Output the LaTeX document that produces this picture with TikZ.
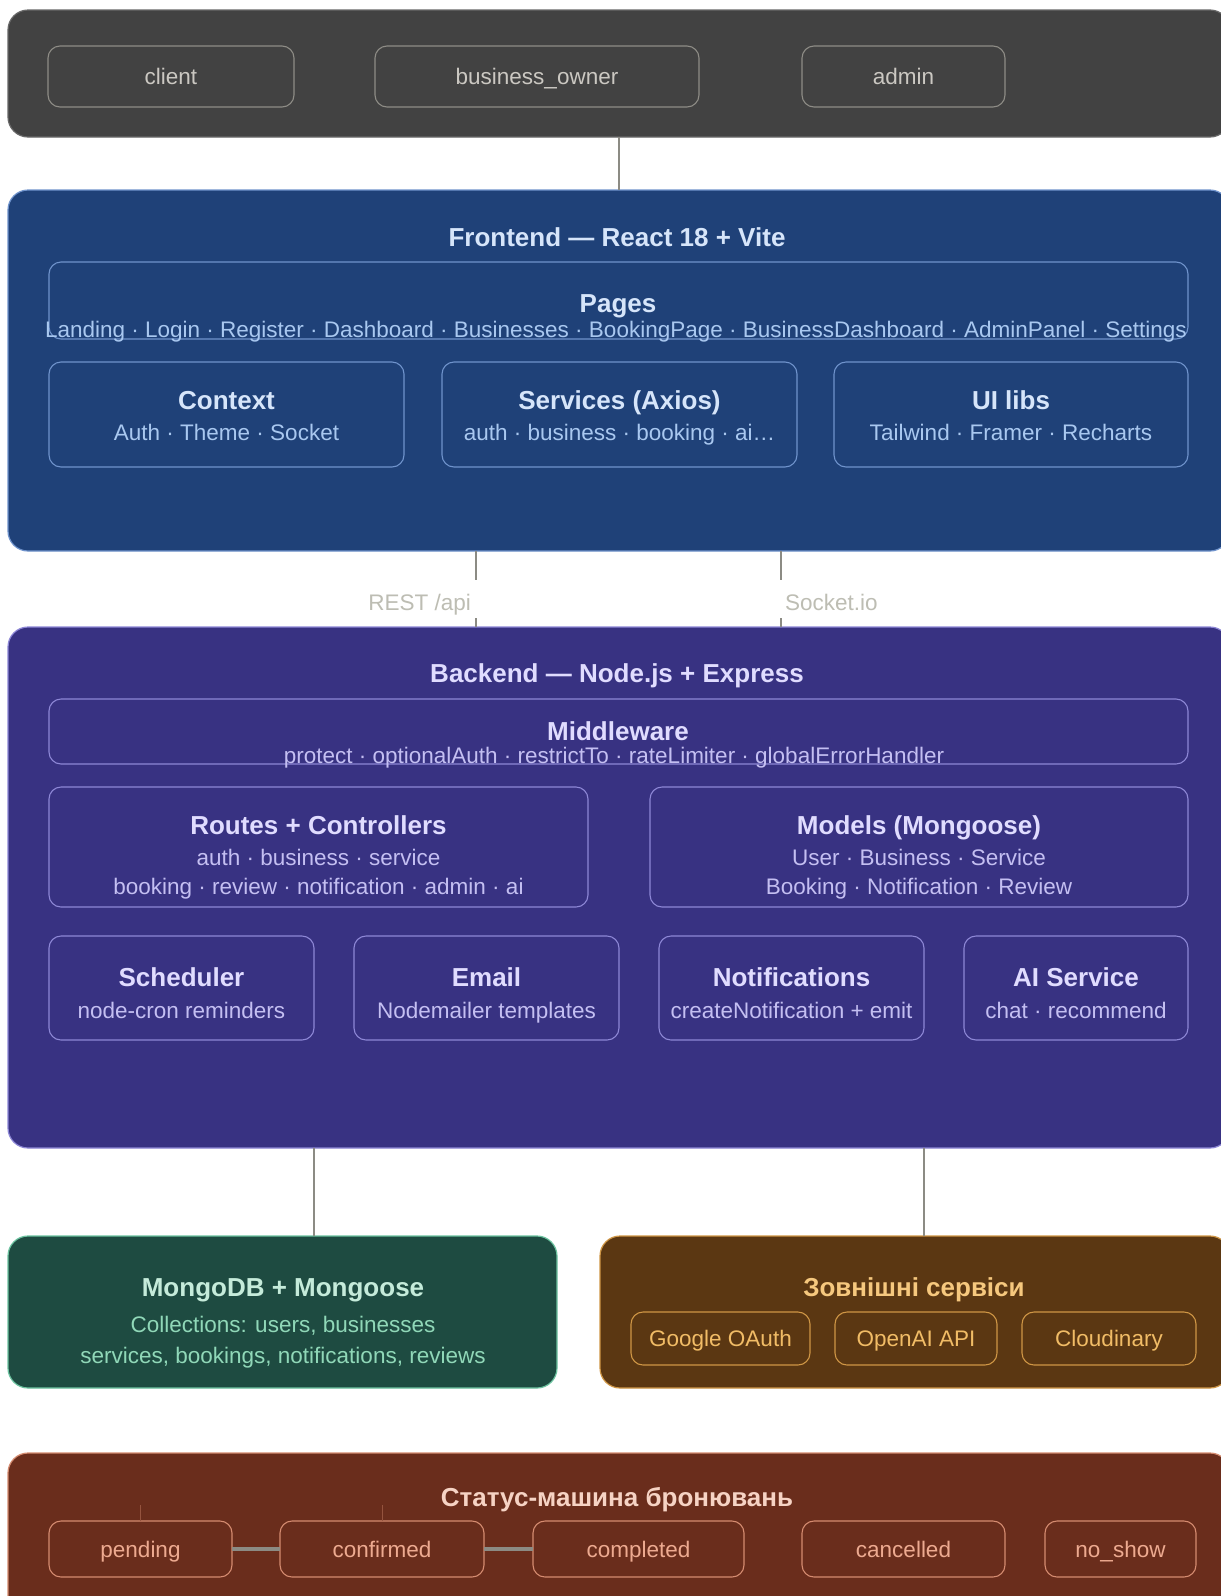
\documentclass[tikz,border=0pt]{standalone}
\usepackage{fontspec}
\setmainfont{Liberation Sans}
\definecolor{usrbg}{HTML}{424242}
\definecolor{usrbd}{HTML}{8E8C86}
\definecolor{usrtx}{HTML}{CBC8C2}
\definecolor{febg}{HTML}{1F4178}
\definecolor{febd}{HTML}{6F93CC}
\definecolor{fetitle}{HTML}{D6E5FA}
\definecolor{fetx}{HTML}{A9C8F0}
\definecolor{bebg}{HTML}{383282}
\definecolor{bebd}{HTML}{8D87D6}
\definecolor{betitle}{HTML}{E0DCFF}
\definecolor{betx}{HTML}{C4BFF2}
\definecolor{dbbg}{HTML}{1E4B41}
\definecolor{dbbd}{HTML}{6CC3A0}
\definecolor{dbtitle}{HTML}{C5EBDA}
\definecolor{dbtx}{HTML}{90D8B8}
\definecolor{exbg}{HTML}{5B3712}
\definecolor{exbd}{HTML}{CF9645}
\definecolor{extitle}{HTML}{F6C87E}
\definecolor{extx}{HTML}{F1BC66}
\definecolor{stbg}{HTML}{6A2D1C}
\definecolor{stbd}{HTML}{D58B70}
\definecolor{sttitle}{HTML}{F6D3C4}
\definecolor{sttx}{HTML}{EDAA90}
\definecolor{connc}{HTML}{8C8B84}
\definecolor{lblc}{HTML}{BDBDB3}
\begin{document}
\begin{tikzpicture}[x=1pt,y=-1pt,
  outerbox/.style={draw, line width=1.2pt, rounded corners=20pt, inner sep=0pt, outer sep=0pt, anchor=north west},
  innerbox/.style={draw, line width=1.1pt, rounded corners=12pt, inner sep=0pt, outer sep=0pt, anchor=north west},
  subfont/.style={font=\fontsize{22.5}{27}\selectfont, text height=16.2pt, text depth=0pt},
  ttl/.style={font=\fontsize{26}{30}\selectfont\bfseries, inner sep=0pt, text height=18.7pt, text depth=0pt},
  subt/.style={subfont, inner sep=0pt},
  connline/.style={draw=connc, line width=1.8pt},
  lbl/.style={subfont, text=lblc, inner sep=0pt}
]
\useasboundingbox (0,0) rectangle (1221,1596);
\fill[white] (0,0) rectangle (1221,1596);

% ---------- Users ----------
\node[outerbox, fill=usrbg, draw=usrbg!80!white, minimum width=1222, minimum height=127] (users) at (8,10) {};
\node[innerbox, draw=usrbd, text=usrtx, subfont, minimum width=246, minimum height=61] (client) at (48,46) {client};
\node[innerbox, draw=usrbd, text=usrtx, subfont, minimum width=324, minimum height=61] (owner) at (375,46) {business\_owner};
\node[innerbox, draw=usrbd, text=usrtx, subfont, minimum width=203, minimum height=61] (admin) at (802,46) {admin};

% ---------- Frontend ----------
\node[outerbox, fill=febg, draw=febd, minimum width=1222, minimum height=361] (fe) at (8,190) {};
\node[ttl, text=fetitle] (fetitle) at (617,237) {Frontend — React 18 + Vite};
\node[innerbox, draw=febd, minimum width=1139, minimum height=77] (pages) at (49,262) {};
\node[ttl, text=fetitle] (pagest) at (618,303) {Pages};
\node[subt, text=fetx] (pagess) at (616,329) {Landing · Login · Register · Dashboard · Businesses · BookingPage · BusinessDashboard · AdminPanel · Settings};
\node[innerbox, draw=febd, minimum width=355, minimum height=105] (ctx) at (49,362) {};
\node[innerbox, draw=febd, minimum width=355, minimum height=105] (svc) at (442,362) {};
\node[innerbox, draw=febd, minimum width=354, minimum height=105] (uil) at (834,362) {};
\node[ttl, text=fetitle] (ctxt) at (226.5,400) {Context};
\node[subt, text=fetx] (ctxs) at (226.5,432) {Auth · Theme · Socket};
\node[ttl, text=fetitle] (svct) at (619.5,400) {Services (Axios)};
\node[subt, text=fetx] (svcs) at (619.5,432) {auth · business · booking · ai…};
\node[ttl, text=fetitle] (uilt) at (1011,400) {UI libs};
\node[subt, text=fetx] (uils) at (1011,432) {Tailwind · Framer · Recharts};

% ---------- Backend ----------
\node[outerbox, fill=bebg, draw=bebd, minimum width=1222, minimum height=521] (be) at (8,627) {};
\node[ttl, text=betitle] (betitle) at (617,673) {Backend — Node.js + Express};
\node[innerbox, draw=bebd, minimum width=1139, minimum height=65] (mw) at (49,699) {};
\node[ttl, text=betitle] (mwt) at (618,731) {Middleware};
\node[subt, text=betx] (mws) at (614,755) {protect · optionalAuth · restrictTo · rateLimiter · globalErrorHandler};
\node[innerbox, draw=bebd, minimum width=539, minimum height=120] (routes) at (49,787) {};
\node[innerbox, draw=bebd, minimum width=538, minimum height=120] (models) at (650,787) {};
\node[ttl, text=betitle] (routest) at (318.5,825) {Routes + Controllers};
\node[subt, text=betx] (routess1) at (318.5,857) {auth · business · service};
\node[subt, text=betx] (routess2) at (318.5,886) {booking · review · notification · admin · ai};
\node[ttl, text=betitle] (modelst) at (919,825) {Models (Mongoose)};
\node[subt, text=betx] (modelss1) at (919,857) {User · Business · Service};
\node[subt, text=betx] (modelss2) at (919,886) {Booking · Notification · Review};
\node[innerbox, draw=bebd, minimum width=265, minimum height=104] (sched) at (49,936) {};
\node[innerbox, draw=bebd, minimum width=265, minimum height=104] (email) at (354,936) {};
\node[innerbox, draw=bebd, minimum width=265, minimum height=104] (notif) at (659,936) {};
\node[innerbox, draw=bebd, minimum width=224, minimum height=104] (ai) at (964,936) {};
\node[ttl, text=betitle] (schedt) at (181.5,977) {Scheduler};
\node[subt, text=betx] (scheds) at (181.5,1010) {node-cron reminders};
\node[ttl, text=betitle] (emailt) at (486.5,977) {Email};
\node[subt, text=betx] (emails) at (486.5,1010) {Nodemailer templates};
\node[ttl, text=betitle] (notift) at (791.5,977) {Notifications};
\node[subt, text=betx] (notifs) at (791.5,1010) {createNotification + emit};
\node[ttl, text=betitle] (ait) at (1076,977) {AI Service};
\node[subt, text=betx] (ais) at (1076,1010) {chat · recommend};

% ---------- Database ----------
\node[outerbox, fill=dbbg, draw=dbbd, minimum width=549, minimum height=152] (db) at (8,1236) {};
\node[ttl, text=dbtitle] (dbt) at (283,1287) {MongoDB + Mongoose};
\node[subt, text=dbtx] (dbs1) at (283,1324) {Collections: users, businesses};
\node[subt, text=dbtx] (dbs2) at (283,1355) {services, bookings, notifications, reviews};

% ---------- External ----------
\node[outerbox, fill=exbg, draw=exbd, minimum width=630, minimum height=152] (ext) at (600,1236) {};
\node[ttl, text=extitle] (extt) at (914,1287) {Зовнішні сервіси};
\node[innerbox, draw=exbd, text=extx, subfont, minimum width=179, minimum height=53] (google) at (631,1312) {Google OAuth};
\node[innerbox, draw=exbd, text=extx, subfont, minimum width=162, minimum height=53] (openai) at (835,1312) {OpenAI API};
\node[innerbox, draw=exbd, text=extx, subfont, minimum width=174, minimum height=53] (cloud) at (1022,1312) {Cloudinary};

% ---------- Status machine ----------
\node[outerbox, fill=stbg, draw=stbd, minimum width=1222, minimum height=170] (st) at (8,1453) {};
\node[ttl, text=sttitle] (stt) at (617,1497) {Статус-машина бронювань};
\node[innerbox, draw=stbd, text=sttx, subfont, minimum width=183, minimum height=56] (pending) at (49,1521) {pending};
\node[innerbox, draw=stbd, text=sttx, subfont, minimum width=204, minimum height=56] (confirmed) at (280,1521) {confirmed};
\node[innerbox, draw=stbd, text=sttx, subfont, minimum width=211, minimum height=56] (completed) at (533,1521) {completed};
\node[innerbox, draw=stbd, text=sttx, subfont, minimum width=203, minimum height=56] (cancelled) at (802,1521) {cancelled};
\node[innerbox, draw=stbd, text=sttx, subfont, minimum width=151, minimum height=56] (noshow) at (1045,1521) {no\_show};

% ---------- Connectors ----------
\draw[connline] (users.south) -- (fe.north);

\coordinate (restx) at (476,0);
\coordinate (sockx) at (781,0);
\coordinate (gaptop) at (0,580);
\coordinate (gapbot) at (0,618);
\draw[connline] (fe.south -| restx) -- (gaptop -| restx);
\draw[connline] (gapbot -| restx) -- (be.north -| restx);
\draw[connline] (fe.south -| sockx) -- (gaptop -| sockx);
\draw[connline] (gapbot -| sockx) -- (be.north -| sockx);
\node[lbl, anchor=east] (restlbl) at (471,602) {REST /api};
\node[lbl, anchor=west] (socklbl) at (785,602) {Socket.io};

\coordinate (dbx) at (314,0);
\coordinate (exx) at (924,0);
\draw[connline] (be.south -| dbx) -- (db.north -| dbx);
\draw[connline] (be.south -| exx) -- (ext.north -| exx);

\draw[draw=connc, line width=3.2pt] (pending.east) -- (confirmed.west);
\draw[draw=connc, line width=3.2pt] (confirmed.east) -- (completed.west);
\coordinate (tk1) at (140,1505);
\coordinate (tk2) at (382,1505);
\draw[draw=stbd!40!stbg, line width=0.7pt] (pending.north -| tk1) -- (tk1);
\draw[draw=stbd!40!stbg, line width=0.7pt] (confirmed.north -| tk2) -- (tk2);
\end{tikzpicture}
\end{document}
